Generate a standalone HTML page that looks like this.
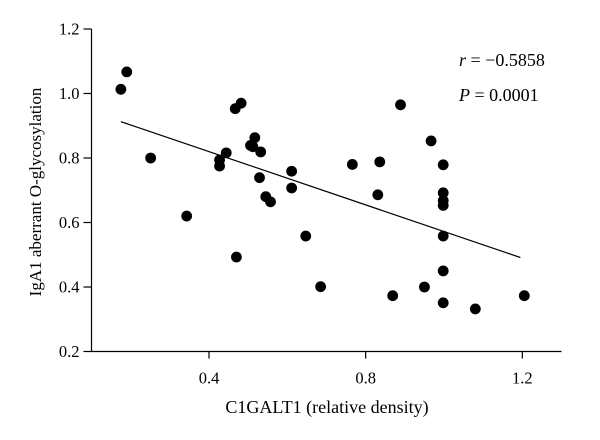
<!DOCTYPE html>
<html><head><meta charset="utf-8"><style>
html,body{margin:0;padding:0;background:#fff;}
svg{display:block;font-family:"Liberation Serif",serif;}
</style></head><body>
<svg id="chart" width="600" height="440" viewBox="0 0 600 440">
<g id="axes"></g><g id="marks"></g>
<text x="459" y="66" font-size="18"><tspan font-style="italic">r</tspan> = −0.5858</text>
<text x="459" y="101" font-size="18"><tspan font-style="italic">P</tspan> = 0.0001</text>
<text x="327" y="413" font-size="18" text-anchor="middle">C1GALT1 (relative density)</text>
<text transform="translate(41,192) rotate(-90)" font-size="17" text-anchor="middle">IgA1 aberrant O-glycosylation</text>
</svg>
<script>
const xValues=[0.175,0.190,0.251,0.343,0.427,0.427,0.444,0.467,0.482,0.470,0.506,0.517,0.512,0.532,0.529,0.545,0.557,0.611,0.611,0.647,0.685,0.766,0.836,0.831,0.889,0.869,0.967,0.950,0.998,0.998,0.998,0.998,0.998,0.998,0.998,1.080,1.205];
const yValues=[1.013,1.067,0.800,0.620,0.794,0.775,0.816,0.953,0.970,0.493,0.839,0.863,0.835,0.819,0.739,0.680,0.664,0.759,0.707,0.558,0.401,0.780,0.788,0.686,0.965,0.373,0.853,0.400,0.779,0.692,0.668,0.653,0.558,0.450,0.351,0.332,0.373];
const xTicks=[0.4,0.8,1.2];
const yTicks=[0.2,0.4,0.6,0.8,1.0,1.2];
const fitLine=[0.175,1.195];
const fitSlope=-0.413, fitIntercept=0.985;
const NS='http://www.w3.org/2000/svg';
const X0=91.5,X1=561.5,Y0=351.5,Y1=29;
const sx=v=>X0+(v-0.1)/(1.3-0.1)*(X1-X0);
const sy=v=>Y0-(v-0.2)/(1.2-0.2)*(Y0-Y1);
function mk(tag,attrs,parent){const e=document.createElementNS(NS,tag);for(const k in attrs)e.setAttribute(k,attrs[k]);parent.appendChild(e);return e;}
const axes=document.getElementById('axes'),marks=document.getElementById('marks');
let e=mk('line',{x1:X0,y1:Y1,x2:X0,y2:Y0,stroke:'#000','stroke-width':1.2},axes);


e=mk('line',{x1:X0,y1:Y0,x2:X1,y2:Y0,stroke:'#000','stroke-width':1.2},axes);


yTicks.forEach(t=>{
 const y=sy(t);
 let l=mk('line',{x1:X0-8,y1:y,x2:X0,y2:y,stroke:'#000','stroke-width':1.2},axes);
 
 
 let tx=mk('text',{x:X0-12,y:y+5.5,'font-size':16.5,'text-anchor':'end'},axes);
 tx.textContent=t.toFixed(1);
 
 
});
xTicks.forEach(t=>{
 const x=sx(t);
 let l=mk('line',{x1:x,y1:Y0,x2:x,y2:Y0+7,stroke:'#000','stroke-width':1.2},axes);
 
 
 let tx=mk('text',{x:x,y:Y0+32,'font-size':16.5,'text-anchor':'middle'},axes);
 tx.textContent=t.toFixed(1);
 
 
});
let fl=mk('line',{x1:sx(fitLine[0]),y1:sy(fitIntercept+fitSlope*fitLine[0]),x2:sx(fitLine[1]),y2:sy(fitIntercept+fitSlope*fitLine[1]),stroke:'#000','stroke-width':1.2},marks);


xValues.forEach((v,i)=>{
 const c=mk('circle',{cx:sx(v),cy:sy(yValues[i]),r:5.4,fill:'#000'},marks);
 
 
});
</script>
</body></html>
